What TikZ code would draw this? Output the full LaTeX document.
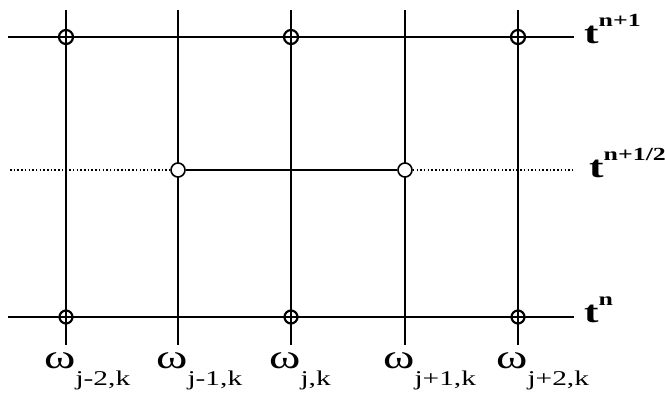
\documentclass[tikz,border=0pt]{standalone}
\usepackage{fontspec}
\setmainfont{Liberation Serif}
\newfontfamily\lblfont[FakeStretch=1.4]{Liberation Serif}
\usetikzlibrary{positioning}

\newcommand{\tsup}[1]{\raisebox{17pt}{\fontsize{18.5}{18.5}\selectfont\bfseries #1}}
\newcommand{\wsub}[1]{\raisebox{-17pt}{\fontsize{21}{21}\selectfont #1}}

\begin{document}
\begin{tikzpicture}[x=1pt,y=-1pt,
  hline/.style ={line width=1.3pt},
  vthick/.style={line width=1.8pt},
  vthin/.style ={line width=1.1pt},
  dotline/.style={line width=1.3pt,dash pattern=on 1.5pt off 2.2pt},
  xnode/.style ={draw,circle,line width=2.2pt,minimum size=14pt,inner sep=0pt},
  onode/.style ={draw,circle,fill=white,line width=1.6pt,minimum size=14pt,inner sep=0pt},
  tlab/.style  ={inner sep=0pt,anchor=base west,font=\lblfont\fontsize{31}{31}\selectfont\bfseries},
  wlab/.style  ={inner sep=0pt,anchor=base west,font=\lblfont\fontsize{34}{34}\selectfont},
]
\useasboundingbox (0,0) rectangle (665,402);
% grid columns and time levels
\foreach \i/\x in {1/66,2/178,3/291,4/405,5/518}{
  \coordinate (c\i-top) at (\x,10);
  \coordinate (c\i-bot) at (\x,345);
}
\coordinate (top-l) at (8,37);   \coordinate (top-r) at (574,37);
\coordinate (mid-l) at (10,170); \coordinate (mid-r) at (574,170);
\coordinate (bot-l) at (8,317);  \coordinate (bot-r) at (574,317);

\foreach \i in {1,3,5} \draw[vthick] (c\i-top) -- (c\i-bot);
\foreach \i in {2,4} \draw[vthin] (c\i-top) -- (c\i-bot);
\draw[hline] (top-l) -- (top-r);
\draw[hline] (bot-l) -- (bot-r);

% grid points
\foreach \i/\x in {1/66,3/291,5/518}{
  \node[xnode] (up\i) at (\x,37) {};
  \node[xnode,minimum size=13pt] (dn\i) at (\x,317) {};
}
\node[onode] (half2) at (178,170) {};
\node[onode] (half4) at (405,170) {};
\draw[dotline] (mid-l) -- (half2);
\draw[hline] (half2) -- (half4);
\draw[dotline] (half4) -- (mid-r);

% labels
\node[tlab] (tn1) at (584,43)  {t\tsup{n+1}};
\node[tlab] (tnh) at (589,177) {t\tsup{n+1/2}};
\node[tlab] (tn)  at (584,322) {t\tsup{n}};
\foreach \i/\x/\s in {1/66/{j-2,k}, 2/178/{j-1,k}, 3/291/{j,k}, 4/405/{j+1,k}, 5/518/{j+2,k}}
  \node[wlab] (w\i) at (\x-22,368) {ω\wsub{\s}};
\end{tikzpicture}
\end{document}
